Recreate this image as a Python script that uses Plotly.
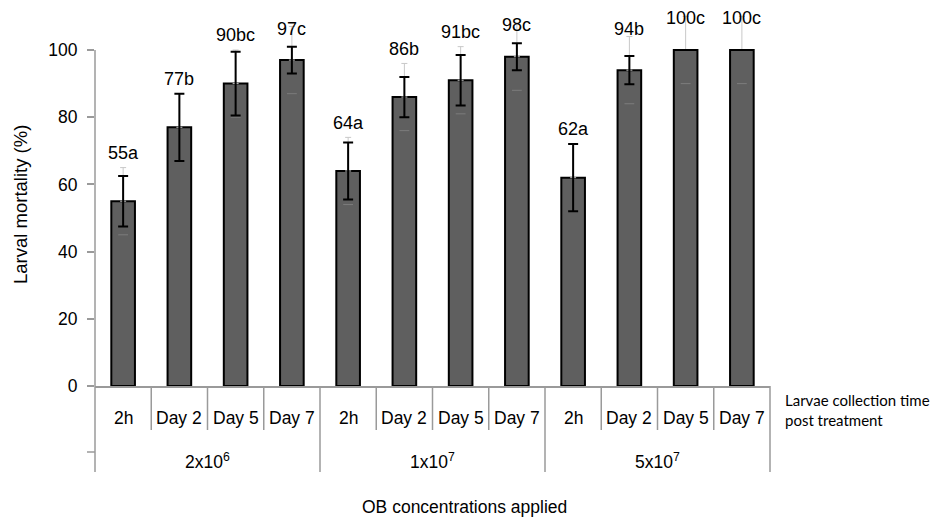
import plotly.graph_objects as go

# ---- data ----
time_labels = ["2h", "Day 2", "Day 5", "Day 7", "2h", "Day 2", "Day 5", "Day 7", "2h", "Day 2", "Day 5", "Day 7"]
concentrations = ["2x10<sup>6</sup>", "1x10<sup>7</sup>", "5x10<sup>7</sup>"]
mortality = [55, 77, 90, 97, 64, 86, 91, 98, 62, 94, 100, 100]
std_err = [7.5, 10, 9.5, 4, 8.5, 6, 7.5, 4, 10, 4.2, 0, 0]
gray_err = [10, 10, 10, 10, 10, 10, 10, 10, 10, 10, 10, 10]
letters = ["a", "b", "bc", "c", "a", "b", "bc", "c", "a", "b", "c", "c"]
y_ticks = [0, 20, 40, 60, 80, 100]

FONT = "Liberation Sans, Arial, sans-serif"
AXIS_GRAY = "#9a9a9a"

# page offset of the figure inside the browser window (default body margin)
OFF = 8
W, H = 941 - OFF, 519 - OFF
# screen-space geometry of the plot area
S_LEFT, S_RIGHT, S_BASE = 95, 770, 386
PX_PER_UNIT = 3.36
L = S_LEFT - OFF
R = W - (S_RIGHT - OFF)
T = 0
B = H - (S_BASE - OFF)
PW = S_RIGHT - S_LEFT
PH = (S_BASE - OFF) - T
Y_TOP = PH / PX_PER_UNIT

n = len(mortality)
xs = list(range(n))
per_group = n // len(concentrations)


def py(sy):
    return (S_BASE - sy) / PH


def px_(sx):
    return (sx - S_LEFT) / PW


fig = go.Figure()
fig.add_trace(go.Bar(
    x=xs, y=mortality, width=0.42,
    marker=dict(color="#5f5f5f", line=dict(color="#000000", width=2)),
    hoverinfo="skip", showlegend=False,
))
# faint secondary error bars (upper whisker above the bar)
fig.add_trace(go.Scatter(
    x=xs, y=mortality, mode="markers",
    marker=dict(size=1, color="rgba(0,0,0,0)"),
    error_y=dict(type="data", symmetric=False, array=gray_err,
                 arrayminus=[0] * n, color="#c8c8c8", thickness=1, width=3),
    cliponaxis=False, showlegend=False, hoverinfo="skip",
))
# their lower caps, faintly visible inside the bars
fig.add_trace(go.Scatter(
    x=xs, y=[v - g for v, g in zip(mortality, gray_err)], mode="markers",
    marker=dict(symbol="line-ew", size=7, color="#7c7c7c",
                line=dict(color="#7c7c7c", width=1)),
    cliponaxis=False, showlegend=False, hoverinfo="skip",
))
# main error bars
fig.add_trace(go.Scatter(
    x=xs, y=mortality, mode="markers",
    marker=dict(size=1, color="rgba(0,0,0,0)"),
    error_y=dict(type="data", array=std_err, color="#000000", thickness=2, width=5),
    cliponaxis=False, showlegend=False, hoverinfo="skip",
))

annotations = []
# value labels (above the upper whisker, squeezed near the top of the axis)
for i, (v, lt) in enumerate(zip(mortality, letters)):
    ylab = max(min(v + 12, 104), v + 7)
    annotations.append(dict(
        x=i, y=ylab, xref="x", yref="y",
        text=f"{v}{lt}", showarrow=False, yanchor="bottom", yshift=-4,
        font=dict(family=FONT, size=18, color="#000000"),
    ))

# category labels
for i, lab in enumerate(time_labels):
    annotations.append(dict(
        x=i, y=py(418), xref="x", yref="paper", text=lab, showarrow=False,
        yanchor="middle", font=dict(family=FONT, size=17.5, color="#000000"),
    ))
# group labels
for gi, lab in enumerate(concentrations):
    annotations.append(dict(
        x=gi * per_group + (per_group - 1) / 2, y=py(461), xref="x", yref="paper",
        text=lab, showarrow=False, yanchor="middle",
        font=dict(family=FONT, size=17.5, color="#000000"),
    ))
# axis titles
annotations.append(dict(
    x=px_(464), y=py(507), xref="paper", yref="paper",
    text="OB concentrations applied", showarrow=False, yanchor="middle",
    font=dict(family=FONT, size=17.5, color="#000000"),
))
annotations.append(dict(
    x=px_(20), y=py(205), xref="paper", yref="paper",
    text="Larval mortality (%)", showarrow=False, textangle=-90,
    xanchor="center", yanchor="middle",
    font=dict(family=FONT, size=18.5, color="#000000"),
))
annotations.append(dict(
    x=px_(783), y=py(410), xref="paper", yref="paper",
    text="Larvae collection time<br>post treatment", showarrow=False,
    xanchor="left", yanchor="middle", align="left",
    font=dict(family="Lato, Carlito, sans-serif", size=15, color="#000000"),
))

# axis lines and category-axis box lines
shapes = [dict(type="line", xref="paper", yref="paper",
               x0=0, x1=0, y0=0, y1=100 / Y_TOP,
               line=dict(color=AXIS_GRAY, width=1.5))]
for k in range(n + 1):
    xp = k / n
    bottom = py(472) if k % per_group == 0 else py(430)
    shapes.append(dict(type="line", xref="paper", yref="paper",
                       x0=xp, x1=xp, y0=0, y1=bottom,
                       line=dict(color=AXIS_GRAY, width=1.5)))
shapes.append(dict(type="line", xref="paper", yref="paper",
                   x0=px_(87), x1=0, y0=py(452), y1=py(452),
                   line=dict(color=AXIS_GRAY, width=1.5)))

fig.update_layout(
    width=W, height=H,
    margin=dict(l=L, r=R, t=T, b=B),
    paper_bgcolor="white", plot_bgcolor="white",
    bargap=0.58,
    annotations=annotations, shapes=shapes,
    xaxis=dict(range=[-0.5, n - 0.5], showticklabels=False, ticks="",
               showgrid=False, zeroline=False, showline=True,
               linecolor=AXIS_GRAY, linewidth=1.5, fixedrange=True),
    yaxis=dict(range=[0, Y_TOP], tickvals=y_ticks, ticks="outside", ticklen=7,
               tickwidth=1.5, tickcolor=AXIS_GRAY, showline=False,
               showgrid=False, zeroline=False, ticklabelstandoff=6,
               tickfont=dict(family=FONT, size=17.5, color="#000000"),
               fixedrange=True),
)

fig.write_html("out.html")
